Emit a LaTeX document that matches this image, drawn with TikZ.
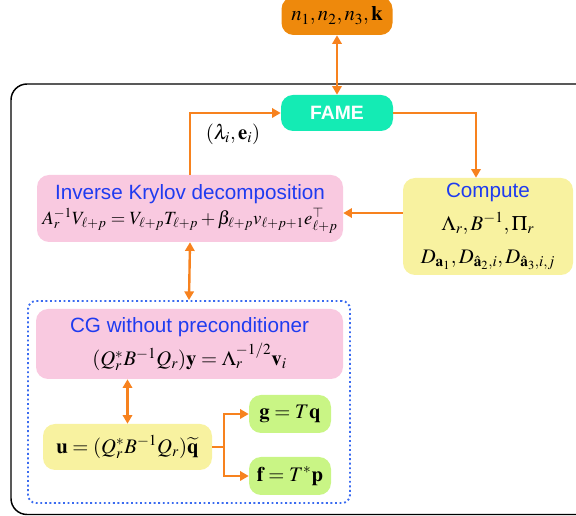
\documentclass[tikz,border=0pt]{standalone}
\usepackage{mathptmx}
\usepackage[no-math]{fontspec}
\setsansfont{Liberation Sans}
\usetikzlibrary{arrows.meta}

\definecolor{arrorange}{RGB}{247,130,30}
\definecolor{boxorange}{RGB}{238,137,12}
\definecolor{fameteal}{RGB}{20,235,180}
\definecolor{boxpink}{RGB}{249,201,224}
\definecolor{boxyellow}{RGB}{248,242,160}
\definecolor{boxgreen}{RGB}{201,245,133}
\definecolor{titleblue}{RGB}{31,59,240}
\definecolor{dotblue}{RGB}{58,107,240}
\newcommand{\boxtitle}[1]{{\sffamily\color{titleblue}#1}}

\begin{document}
\begin{tikzpicture}[x=0.75pt,y=0.75pt,yscale=-1,xscale=1,
  box/.style={rounded corners=9pt, inner sep=0pt, align=center, font=\fontsize{15.5}{19}\selectfont},
  arr/.style={draw=arrorange, line width=1.8pt, -{Triangle[length=6.5pt,width=7pt]}},
  darr/.style={draw=arrorange, line width=1.8pt, {Triangle[length=6.5pt,width=7pt]}-{Triangle[length=6.5pt,width=7pt]}}]
\useasboundingbox (0,0) rectangle (576,516);

\draw  [line width=1.1pt, rounded corners=12pt]  (11,84) rectangle (600,514.5)  ;

\draw (337,16) node [box, fill=boxorange, minimum width=83.25pt, minimum height=28.5pt] (params) {$n_1,n_2,n_3,\mathbf{k}$};
\draw (337,113) node [box, fill=fameteal, minimum width=84pt, minimum height=27pt, font=\sffamily\bfseries\fontsize{14.5}{17}\selectfont, text=white] (fame) {FAME};
\draw (190,208.5) node [box, fill=boxpink, minimum width=229.5pt, minimum height=50.25pt] (krylov) {\boxtitle{Inverse Krylov decomposition}\\ \fontsize{14}{17}\selectfont $A_r^{-1}V_{\ell+p}=V_{\ell+p}T_{\ell+p}+\beta_{\ell+p}v_{\ell+p+1}e_{\ell+p}^{\top}$};
\draw (488,226.5) node [box, fill=boxyellow, minimum width=127.5pt, minimum height=72.75pt, font=\fontsize{15.5}{24.5}\selectfont] (compute) {\boxtitle{Compute}\\ $\Lambda_r,B^{-1},\Pi_r$\\ $D_{\mathbf{a}_1},D_{\hat{\mathbf{a}}_2,i},D_{\hat{\mathbf{a}}_3,i,j}$};
\draw (189,402) node [draw=dotblue, dotted, line width=1.4pt, rounded corners=6pt, minimum width=241.5pt, minimum height=151.5pt] (cgframe) {};
\draw (189.5,344) node [box, fill=boxpink, minimum width=230.25pt, minimum height=52.5pt, font=\fontsize{15.5}{25}\selectfont] (cg) {\boxtitle{CG without preconditioner}\\ $(Q_r^*B^{-1}Q_r)\mathbf{y}=\Lambda_r^{-1/2}\mathbf{v}_i$};
\draw (127.5,447) node [box, fill=boxyellow, minimum width=126.75pt, minimum height=34.5pt] (u) {$\mathbf{u}=(Q_r^*B^{-1}Q_r)\widetilde{\mathbf{q}}$};
\draw (290,414) node [box, fill=boxgreen, minimum width=61.5pt, minimum height=28.5pt] (g) {$\mathbf{g}=T\mathbf{q}$};
\draw (290,476) node [box, fill=boxgreen, minimum width=61.5pt, minimum height=28.5pt] (f) {$\mathbf{f}=T^*\mathbf{p}$};
\draw (233,134) node [inner sep=1pt, font=\fontsize{15.5}{19}\selectfont] (eigpair) {$(\lambda_i,\mathbf{e}_i)$};

\draw [darr]  (params.south) -- (fame.north) ;
\draw [arr]  (krylov.north) |- (fame.west) ;
\draw [arr]  (fame.east) -| ([xshift=-9pt]compute.north) ;
\draw [arr]  ([yshift=3.4pt]krylov.east -| compute.west) -- ([yshift=3.4pt]krylov.east) ;
\draw [darr]  (krylov.south) -- (cgframe.north) ;
\draw [darr]  (u.north |- cg.south) -- (u.north) ;
\draw [arr]  (u.east) -- ++(12,0) |- (g.west) ;
\draw [arr]  (u.east) -- ++(12,0) |- (f.west) ;

\end{tikzpicture}
\end{document}
